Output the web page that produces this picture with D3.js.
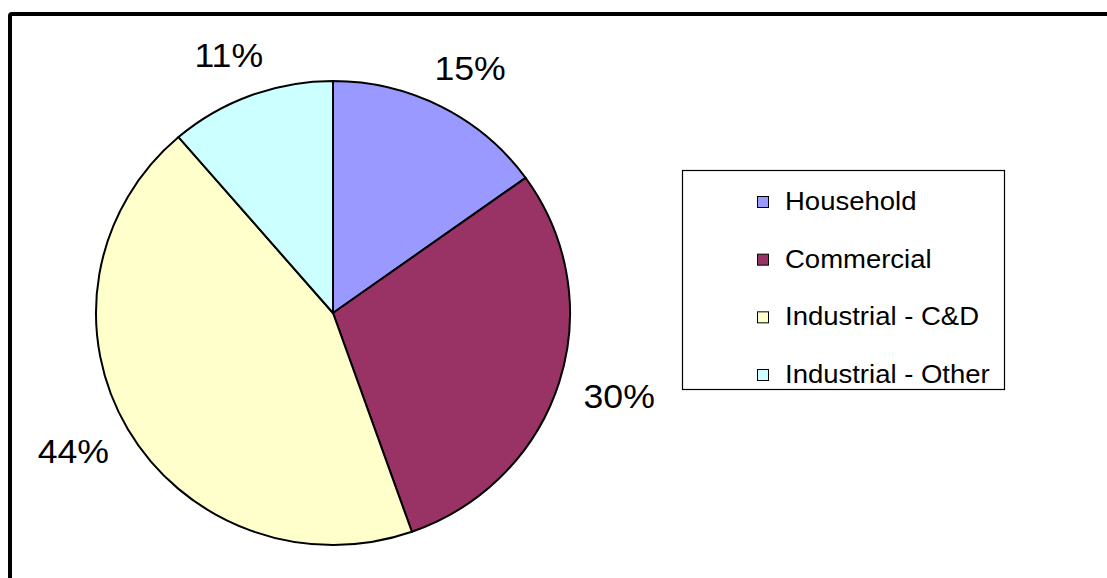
<!DOCTYPE html>
<html>
<head>
<meta charset="utf-8">
<script src="https://cdn.jsdelivr.net/npm/d3@7"></script>
<style>
  body { margin: 0; background: #fff; }
  text { font-family: "Liberation Sans", Arial, sans-serif; fill: #000; }
</style>
</head>
<body>
<div id="chart"></div>
<script>
// data
var categories = ["Household", "Commercial", "Industrial - C&D", "Industrial - Other"];
var shares = [15.1, 29.5, 44.1, 11.3];
var labels = ["15%", "30%", "44%", "11%"];
var colours = ["#9999ff", "#993366", "#ffffcc", "#ccffff"];

var W = 1107, H = 578;

var svg = d3.select("#chart").append("svg")
  .attr("width", W)
  .attr("height", H);

/* outer frame, runs off the right and bottom edges */
svg.append("rect")
  .attr("x", 10).attr("y", 14)
  .attr("width", W + 20).attr("height", H + 20)
  .attr("rx", 2)
  .attr("fill", "#fff")
  .attr("stroke", "#000")
  .attr("stroke-width", 4);

var cx = 333, cy = 313, r = 237;

var pie = d3.pie().sort(null).value(function(d) { return d; });
var arcs = pie(shares);
var arc = d3.arc().innerRadius(0).outerRadius(r);
var unitArc = d3.arc().innerRadius(1).outerRadius(1);

var g = svg.append("g")
  .attr("transform", "translate(" + cx + "," + cy + ") scale(1," + (232 / 237) + ")");

g.selectAll("path")
  .data(arcs)
  .enter().append("path")
    .attr("d", arc)
    .attr("fill", function(d, i) { return colours[i]; })
    .attr("stroke", "#000")
    .attr("stroke-width", 2)
    .attr("stroke-linejoin", "round")
    .attr("vector-effect", "non-scaling-stroke");

/* percent labels, on an ellipse outside the pie */
var lrx = 300, lry = 275;
svg.append("g")
  .attr("transform", "translate(" + cx + "," + cy + ")")
  .selectAll("text")
  .data(arcs)
  .enter().append("text")
    .attr("transform", function(d) {
      var c = unitArc.centroid(d);
      return "translate(" + (c[0] * lrx) + "," + (c[1] * lry + 12) + ") scale(1.08,1)";
    })
    .attr("text-anchor", "middle")
    .style("font-size", "33px")
    .text(function(d, i) { return labels[i]; });

/* legend */
var leg = svg.append("g");
leg.append("rect")
  .attr("x", 682.5).attr("y", 170.5)
  .attr("width", 322).attr("height", 219)
  .attr("fill", "#fff")
  .attr("stroke", "#000")
  .attr("stroke-width", 1.2);

var rowY = d3.scalePoint().domain(categories).range([210, 383]);

var rows = leg.selectAll("g.row")
  .data(categories)
  .enter().append("g")
    .attr("class", "row")
    .attr("transform", function(d) { return "translate(0," + rowY(d) + ")"; });

rows.append("rect")
  .attr("x", 757.5).attr("y", -13.5)
  .attr("width", 11).attr("height", 11)
  .attr("fill", function(d, i) { return colours[i]; })
  .attr("stroke", "#000")
  .attr("stroke-width", 1);

rows.append("text")
  .attr("transform", "translate(785,0) scale(1.1,1)")
  .style("font-size", "25px")
  .text(function(d) { return d; });
</script>
</body>
</html>
